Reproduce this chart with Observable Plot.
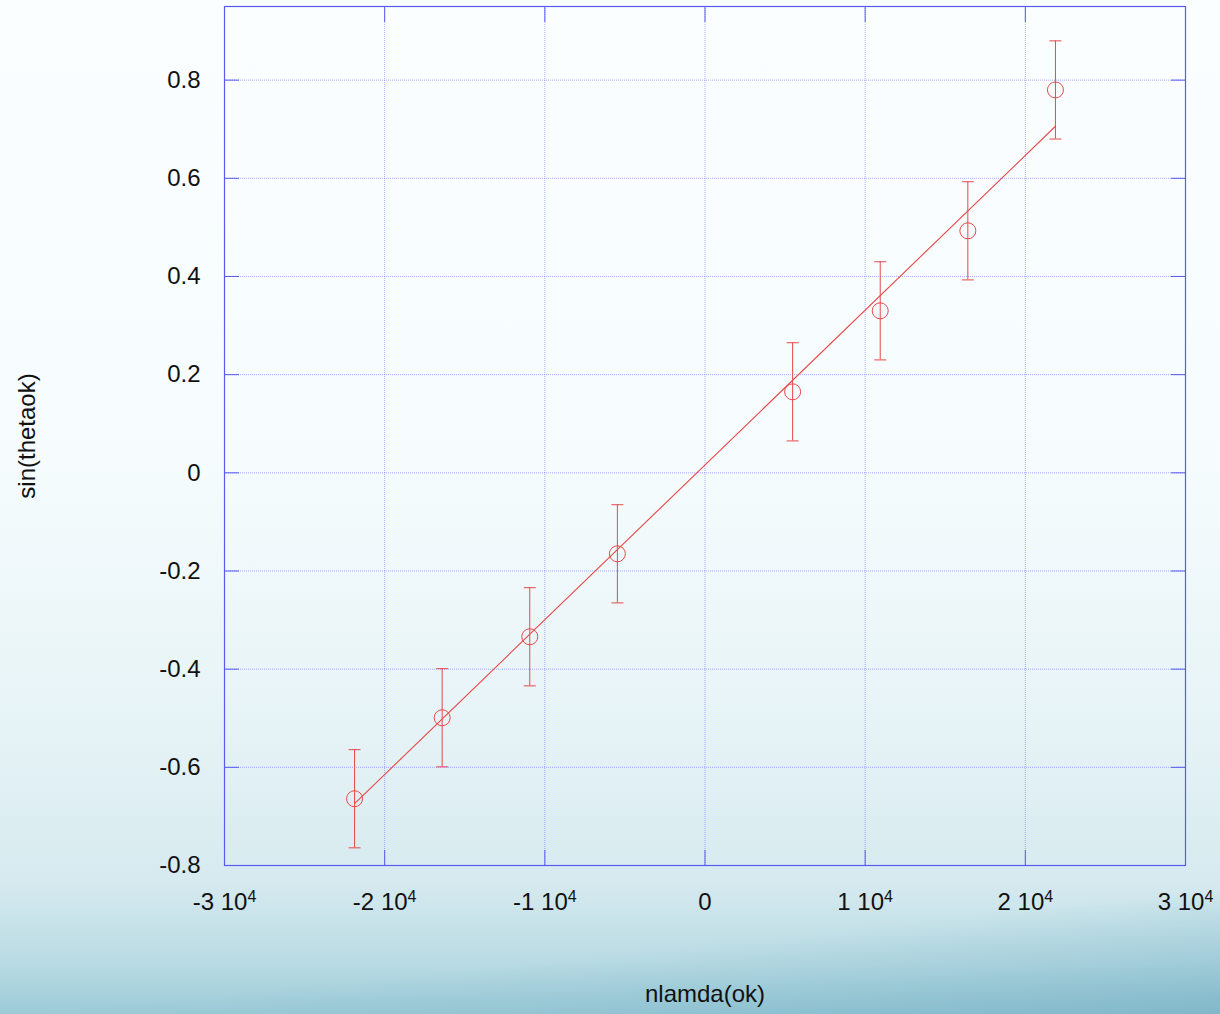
<!DOCTYPE html>
<html>
<head>
<meta charset="utf-8">
<script src="https://cdn.jsdelivr.net/npm/d3@7"></script>
<script src="https://cdn.jsdelivr.net/npm/@observablehq/plot@0.6"></script>
<style>
  html, body { margin: 0; padding: 0; }
  body {
    width: 1220px; height: 1014px; overflow: hidden;
    background:
      linear-gradient(174deg, rgba(255,255,255,0) 0%, rgba(255,255,255,0) 89%, rgba(130,185,202,0.35) 94%, rgba(110,172,192,0.6) 100%),
      linear-gradient(180deg, #fbfeff 0%, #f6fcfe 45%, #e6f3f6 72%, #d6eaef 87%, #b9dbe4 95%, #9ccad7 100%);
    font-family: "Liberation Sans", Arial, sans-serif;
  }
  #chart svg { display: block; }
</style>
</head>
<body>
<div id="chart"></div>
<script>
// Data
const nlamda = [-21880, -16410, -10940, -5470, 5470, 10940, 16410, 21880];
const sinTheta = [-0.664, -0.499, -0.334, -0.165, 0.165, 0.330, 0.493, 0.780];
const errBar = [0.1, 0.1, 0.1, 0.1, 0.1, 0.1, 0.1, 0.1];
const fitX = [-21880, 21880];
const fitY = [-0.674, 0.706];
const xTicks = [-30000, -20000, -10000, 0, 10000, 20000, 30000];
const xTickLabels = ["-3 10⁴", "-2 10⁴", "-1 10⁴", "0", "1 10⁴", "2 10⁴", "3 10⁴"];
const yTicks = [-0.8, -0.6, -0.4, -0.2, 0, 0.2, 0.4, 0.6, 0.8];
const yTickLabels = ["-0.8", "-0.6", "-0.4", "-0.2", "0", "0.2", "0.4", "0.6", "0.8"];

const points = nlamda.map((x, i) => ({x, y: sinTheta[i], lo: sinTheta[i] - errBar[i], hi: sinTheta[i] + errBar[i]}));
const fit = fitX.map((x, i) => ({x, y: fitY[i]}));

const red = "#e84848";
const gridColor = "#6a6aff";
const frameColor = "#5a5af0";

const capSymbol = {
  draw(ctx, size) {
    const r = Math.sqrt(size / Math.PI);
    ctx.moveTo(-r, 0);
    ctx.lineTo(r, 0);
  }
};

const chart = Plot.plot({
  width: 1220,
  height: 1014,
  marginLeft: 224,
  marginRight: 35,
  marginTop: 6,
  marginBottom: 149,
  style: {background: "transparent", fontFamily: "'Liberation Sans', Arial, sans-serif", fontSize: "24px", color: "#111"},
  x: {domain: [-30000, 30000], ticks: xTicks, label: null},
  y: {domain: [-0.8, 0.95], ticks: yTicks, label: null},
  marks: [
    Plot.gridX(xTicks, {stroke: gridColor, strokeOpacity: 0.55, strokeDasharray: "1,1"}),
    Plot.gridY(yTicks, {stroke: gridColor, strokeOpacity: 0.55, strokeDasharray: "1,1"}),
    Plot.axisX(xTicks, {anchor: "bottom", tickSize: 0, tickPadding: 27, fontSize: 24, tickFormat: (d) => xTickLabels[xTicks.indexOf(d)], fill: "#111"}),
    Plot.axisY(yTicks, {anchor: "left", tickSize: 0, tickPadding: 24, fontSize: 24, tickFormat: (d) => yTickLabels[yTicks.indexOf(d)], fill: "#111"}),
    Plot.axisX(xTicks, {anchor: "bottom", tickSize: -15, stroke: frameColor, text: null, label: null}),
    Plot.axisX(xTicks, {anchor: "top", tickSize: -15, stroke: frameColor, text: null, label: null}),
    Plot.axisY(yTicks, {anchor: "left", tickSize: -15, stroke: frameColor, text: null, label: null}),
    Plot.axisY(yTicks, {anchor: "right", tickSize: -15, stroke: frameColor, text: null, label: null}),
    Plot.frame({stroke: frameColor, strokeWidth: 1.2}),
    Plot.line(fit, {x: "x", y: "y", stroke: red, strokeWidth: 1.1}),
    Plot.ruleX(points, {x: "x", y1: "lo", y2: "hi", stroke: red, strokeWidth: 1}),
    Plot.dot(points, {x: "x", y: "lo", symbol: capSymbol, r: 6, stroke: red, strokeWidth: 1}),
    Plot.dot(points, {x: "x", y: "hi", symbol: capSymbol, r: 6, stroke: red, strokeWidth: 1}),
    Plot.dot(points, {x: "x", y: "y", r: 8, stroke: red, strokeWidth: 1, fill: "none"}),
    Plot.text(["nlamda(ok)"], {frameAnchor: "bottom", dy: 136, fontSize: 24, fill: "#111"}),
    Plot.text(["sin(thetaok)"], {frameAnchor: "left", dx: -197, rotate: -90, textAnchor: "middle", fontSize: 24, fill: "#111"})
  ]
});

// Render the "⁴" of the x tick labels as a raised superscript
chart.querySelectorAll("text").forEach((node) => {
  const t = node.textContent;
  const k = t.indexOf("⁴");
  if (k >= 0) {
    node.textContent = t.slice(0, k);
    const sup = document.createElementNS("http://www.w3.org/2000/svg", "tspan");
    sup.setAttribute("dy", "-0.45em");
    sup.setAttribute("font-size", "16px");
    sup.textContent = "4";
    node.appendChild(sup);
  }
});

document.getElementById("chart").appendChild(chart);
</script>
</body>
</html>
